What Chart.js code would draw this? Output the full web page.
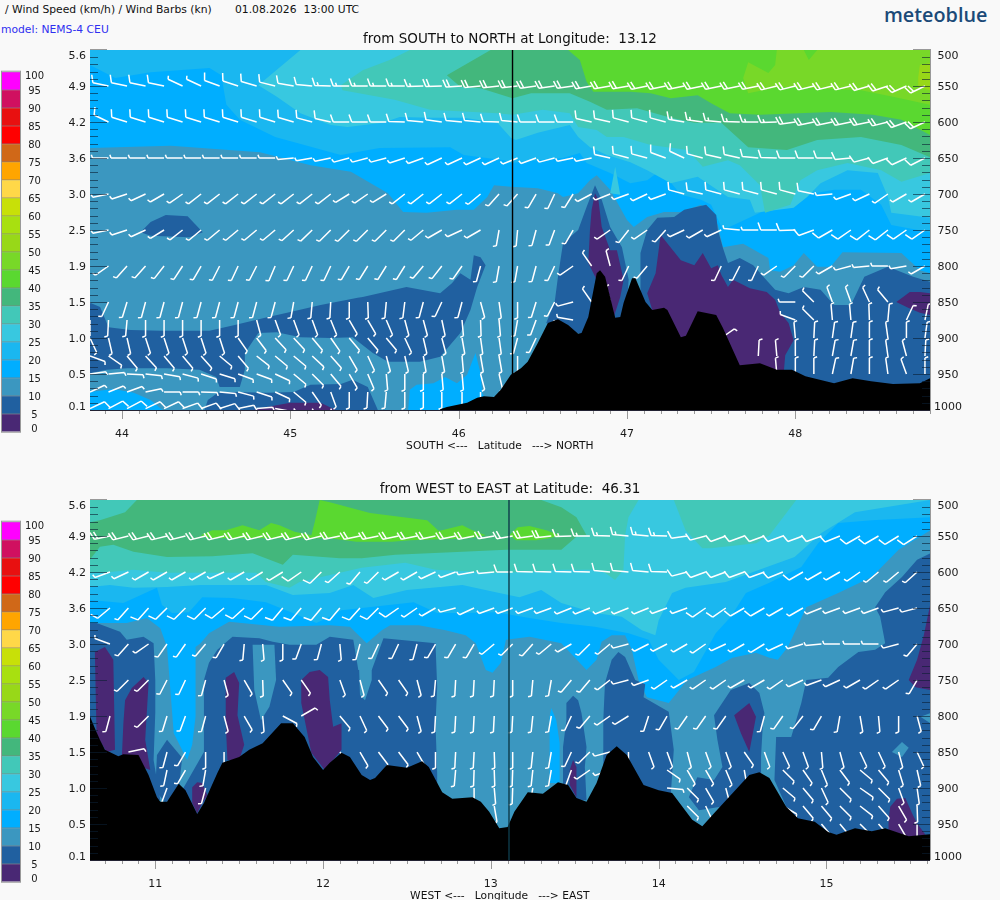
<!DOCTYPE html>
<html>
<head>
<meta charset="utf-8">
<title>Wind cross sections</title>
<script src="https://cdn.jsdelivr.net/npm/chart.js@4"></script>
<style>
  html, body { margin: 0; background: #f9f9f9; overflow: hidden; width: 1000px; height: 900px; }
  body { position: relative; font-family: "DejaVu Sans", sans-serif; color: #111; }
  canvas { position: absolute; left: 0; }
  .t { position: absolute; white-space: pre; font-size: 10.75px; line-height: 14px; }
  #logo { left: 884px; top: 1px; font: 600 19.8px/28px "Open Sans", sans-serif; color: #1b4a78; }
</style>
</head>
<body>
<div class="t" style="left:5px;top:3px">/ Wind Speed (km/h) / Wind Barbs (kn)</div>
<div class="t" style="left:235px;top:3px">01.08.2026  13:00 UTC</div>
<div class="t" style="left:1px;top:23px;color:#2f2ff0">model: NEMS-4 CEU</div>
<div class="t" id="logo">meteoblue</div>
<canvas id="scaleTop" width="50" height="450" style="top:0"></canvas>
<canvas id="scaleBottom" width="50" height="450" style="top:450px"></canvas>
<canvas id="panelTop" width="1000" height="453" style="top:0"></canvas>
<canvas id="panelBottom" width="1000" height="453" style="top:450px"></canvas>
<script>
const __ = null;

// colour scale, km/h
const speedSteps = [0, 5, 10, 15, 20, 25, 30, 35, 40, 45, 50, 55, 60, 65, 70, 75, 80, 85, 90, 95];
const speedColors = ['#492874', '#2060a0', '#3b97c0', '#00aeff', '#1ab7f0', '#38c8e0', '#42c8b8', '#43b77c', '#5ad830', '#78d828',
  '#98d818', '#a8e010', '#c8e008', '#ffd848', '#ffa500', '#d06818', '#ff0000', '#e81010', '#d01060', '#ff00ff'];
const speedTickValues = [0.5, 4.6, 9.6, 14.6, 19.6, 24.6, 29.6, 34.6, 39.6, 44.6, 49.6, 54.6, 59.6, 64.6, 69.6, 74.6, 79.6, 84.6, 89.6, 94.6, 98.7];
const speedTickLabels = ['0', '5', '10', '15', '20', '25', '30', '35', '40', '45', '50', '55', '60', '65', '70', '75', '80', '85', '90', '95', '100'];

// vertical axes, the first and last label sit a little inside the plot
const levelTickValues = [508, 552, 602, 652, 702, 752, 802, 852, 902, 952, 996];
const heightLabels = ['5.6', '4.9', '4.2', '3.6', '3.0', '2.5', '1.9', '1.5', '1.0', '0.5', '0.1'];
const pressureLabels = ['500', '550', '600', '650', '700', '750', '800', '850', '900', '950', '1000'];

// ---- SOUTH to NORTH: contours as lat,hPa pairs
const nsBand15 = [43.81,636,44.29,633,44.82,642,45.12,660,45.36,669,45.58,699,45.67,725,45.81,726,45.99,722,46.09,722,46.17,704,46.21,688,46.31,690,46.47,692,46.59,699,46.62,704,46.71,699,46.78,681,46.82,674,46.90,694,47.00,736,47.04,746,47.12,732,47.22,725,47.32,725,47.44,715,47.54,743,47.57,774,47.69,769,47.78,781,47.84,789,47.85,806,47.91,808,47.99,799,48.05,782,48.13,801,48.21,801,48.28,781,48.63,782,48.74,806,48.80,810,48.80,500,43.81,500];
const nsBand20 = [43.81,521,43.96,539,44.17,531,44.52,525,44.59,535,44.62,576,44.70,597,44.91,621,45.30,646,45.53,636,45.95,635,46.03,646,46.27,653,46.31,657,46.47,653,46.62,650,46.72,643,46.76,657,46.90,671,47.02,685,47.12,681,47.20,667,47.32,701,47.44,708,47.50,715,47.57,750,47.79,726,47.99,704,48.23,694,48.39,694,48.51,715,48.57,743,48.80,753,48.80,500,43.81,500];
const nsHump15 = [44.98,500,45.03,511,45.12,514,45.22,500];
const nsBand25 = [45.06,500,44.81,549,44.92,565,45.06,588,45.24,604,45.34,607,45.55,601,45.65,593,45.83,594,46.03,594,46.23,601,46.31,622,46.34,625,46.47,615,46.66,604,46.71,621,46.78,635,46.88,646,47.02,656,47.12,667,47.26,685,47.42,676,47.60,704,47.73,708,47.76,726,47.99,719,48.07,704,48.15,685,48.31,667,48.49,671,48.55,704,48.57,726,48.80,733,48.80,500];
const nsBand30 = [45.71,500,45.59,514,45.43,528,45.30,549,45.31,556,45.62,569,45.83,583,46.23,588,46.32,590,46.50,583,46.66,588,46.71,607,46.82,611,46.88,621,46.98,621,47.14,632,47.36,639,47.45,662,47.60,653,47.67,660,47.79,688,47.82,726,47.97,715,48.03,681,48.13,667,48.31,657,48.51,667,48.63,683,48.80,671,48.80,500];
const nsSpike30 = [46.93,662,46.90,699,46.96,701];
const nsBand35 = [46.19,500,45.93,535,46.01,551,46.13,553,46.32,567,46.43,560,46.66,560,46.78,572,46.88,583,47.06,581,47.26,594,47.40,601,47.56,601,47.72,635,47.95,639,48.13,625,48.39,621,48.63,632,48.80,649,48.80,500];
const nsBand40 = [46.65,500,46.72,514,46.76,544,46.80,558,47.02,558,47.14,560,47.26,567,47.42,563,47.50,574,47.61,588,47.79,590,48.21,586,48.46,590,48.63,597,48.80,618,48.80,500];
const nsBand45 = [47.89,500,47.88,521,47.84,532,47.72,517,47.69,539,47.72,560,47.91,551,48.39,556,48.58,565,48.80,576,48.80,500];
const nsNotch40 = [48.05,500,48.08,514,48.13,500];
const nsBand50 = [48.74,521,48.73,538,48.73,551,48.80,556,48.80,518];
const nsIsle5a = [44.11,753,44.17,739,44.26,729,44.39,731,44.48,753,44.40,760,44.17,758];
const nsIsle5b = [43.81,851,43.87,857,43.92,885,44.05,889,44.23,890,44.52,890,44.67,882,44.85,872,45.00,864,45.18,854,45.40,844,45.43,843,45.69,829,45.89,838,45.96,824,46.01,810,46.07,819,46.09,785,46.13,788,46.16,799,46.11,829,46.07,861,46.01,893,45.89,926,45.77,933,45.58,933,45.49,921,45.37,899,45.24,900,45.06,899,44.92,892,44.81,893,44.73,921,44.73,944,44.70,968,44.58,968,44.56,954,44.46,944,44.27,942,44.03,942,43.91,944,43.81,949];
const nsIsle5c = [44.49,1000,44.51,986,44.57,976,44.66,975,44.86,976,45.02,975,45.12,965,45.30,964,45.37,958,45.46,968,45.52,1000];
const nsSpire5 = [46.81,688,46.76,718,46.71,750,46.62,768,46.59,815,46.57,851,46.52,879,46.84,903,46.99,875,47.01,819,46.97,774,46.90,746,46.85,708];
const nsRight5 = [47.08,782,47.12,750,47.18,733,47.28,732,47.34,722,47.47,715,47.53,729,47.54,750,47.57,775,47.60,796,47.67,789,47.75,799,47.81,815,47.88,833,47.96,838,48.05,829,48.15,833,48.23,854,48.33,854,48.41,815,48.55,801,48.70,815,48.80,822,48.80,1000,47.08,1000];
const nsSpire0 = [46.81,699,46.79,722,46.78,750,46.77,796,46.82,819,46.92,872,46.96,843,46.98,819,46.94,778,46.90,778,46.85,746,46.83,708];
const nsRidge0 = [47.20,757,47.32,792,47.40,799,47.45,782,47.50,803,47.54,799,47.56,812,47.60,829,47.63,819,47.73,831,47.83,836,47.88,847,47.91,865,47.96,879,47.99,903,47.94,924,47.93,951,47.20,951,47.15,861,47.12,838,47.17,810];
const nsEdge0 = [48.60,850,48.68,836,48.74,836,48.80,838,48.80,868,48.74,865,48.67,858];
const nsFloor0 = [44.78,1000,44.86,996,45.00,990,45.18,990,45.27,1000];
const nsFloor15a = [43.81,975,43.95,971,44.07,976,44.17,986,44.24,1000,43.81,1000];
const nsFloor15b = [45.70,1000,45.71,972,45.75,965,45.85,963,45.92,954,45.99,963,46.05,951,46.10,921,46.13,949,46.14,976,46.19,1000];
const nsTerrainLat = [45.89,45.93,46.05,46.11,46.15,46.21,46.25,46.31,46.37,46.41,46.47,46.53,46.59,46.65,46.71,46.73,46.77,46.82,46.84,46.87,46.93,46.96,46.98,47.03,47.05,47.11,47.15,47.22,47.24,47.32,47.35,47.42,47.53,47.57,47.67,47.79,47.89,47.98,48.06,48.23,48.34,48.45,48.58,48.74,48.80];
const nsTerrainP = [999,996,990,983,981,982,972,951,942,933,907,879,874,882,894,893,871,810,806,815,872,871,851,817,817,850,861,858,861,899,897,863,868,886,938,935,944,944,953,963,956,960,964,963,956];

// ---- SOUTH to NORTH: wind barbs, direction the wind comes from and speed in kn
const nsBarbLat = [43.81,43.92,44.03,44.14,44.25,44.36,44.47,44.58,44.69,44.80,44.91,45.02,45.13,45.24,45.35,45.46,45.57,45.68,45.79,45.90,46.02,46.13,46.24,46.35,46.46,46.57,46.68,46.79,46.90,47.01,47.12,47.23,47.34,47.45,47.56,47.67,47.78,47.89,48.00,48.11,48.22,48.33,48.44,48.55,48.66,48.77];
const nsDir550 = [282,282,282,282,282,295,295,290,288,286,284,280,275,272,270,270,270,270,268,268,266,265,264,264,262,262,262,260,260,260,258,258,258,258,258,258,258,256,256,256,256,256,254,252,246,244];
const nsKn550 = [10,10,10,10,10,5,5,10,10,10,10,10,10,15,15,15,15,15,15,20,20,20,20,20,20,20,20,20,20,20,20,20,20,20,20,20,20,20,20,20,20,20,20,20,20,20];
const nsDir600 = [300,296,287,287,287,287,287,287,287,287,287,286,285,283,270,270,270,272,275,278,275,275,272,275,270,270,270,283,283,285,285,285,280,278,275,272,270,268,262,258,258,258,258,256,250,245];
const nsKn600 = [5,10,10,10,10,10,10,10,10,10,10,10,10,10,10,10,10,10,10,10,10,10,10,10,10,10,10,10,10,10,10,10,15,15,15,15,15,15,20,20,20,20,20,20,20,20];
const nsDir650 = [270,270,270,270,270,270,270,270,270,270,270,265,260,258,255,255,255,252,250,245,245,245,245,248,250,255,258,258,283,285,285,290,295,285,283,283,275,272,270,270,270,265,255,250,245,243];
const nsKn650 = [5,5,5,5,5,5,5,5,5,5,5,5,5,5,5,5,5,5,5,5,5,5,5,5,5,5,5,5,10,10,10,10,10,10,10,10,10,10,10,10,10,10,10,10,10,10];
const nsDir700 = [__,258,252,245,240,235,232,232,232,232,232,232,232,232,238,235,238,232,232,232,232,230,222,222,210,205,212,242,248,250,245,250,285,283,285,285,285,285,285,282,265,250,245,235,240,240];
const nsKn700 = [5,5,5,5,5,5,5,5,5,5,5,5,5,5,5,5,5,5,5,5,5,5,5,5,5,5,5,5,5,5,5,5,10,10,10,10,10,10,10,10,5,5,5,5,5,5];
const nsDir750 = [262,258,252,245,238,232,230,230,230,230,230,228,226,225,225,225,225,225,230,240,245,240,190,185,195,200,210,__,235,218,235,222,245,240,245,275,270,270,268,250,240,235,232,232,235,235];
const nsKn750 = [5,5,5,5,5,5,5,5,5,5,5,5,5,5,5,5,5,5,5,5,5,5,5,5,5,5,5,5,5,5,5,5,5,5,5,5,5,10,10,10,10,10,10,10,10,10];
const nsDir800 = [240,235,222,222,218,213,210,207,205,207,203,205,205,205,210,212,212,212,220,218,215,195,190,190,195,205,235,325,345,205,220,__,__,__,205,207,205,235,225,225,240,255,265,270,260,240];
const nsDir850 = [210,205,197,195,195,195,195,195,195,195,195,190,185,183,180,178,185,187,195,205,195,165,172,180,197,207,255,325,345,__,__,__,__,__,__,__,__,__,270,315,340,340,335,320,__,__];
const nsDir875 = [180,183,185,180,180,180,180,180,180,165,160,160,160,158,150,150,157,165,165,168,175,178,175,190,200,210,280,__,__,__,__,__,__,__,__,__,__,__,290,315,355,355,358,5,25,12];
const nsDir900 = [155,167,167,162,162,162,162,162,145,143,137,137,140,145,140,140,140,155,167,165,170,172,172,195,205,__,__,__,__,__,__,__,__,__,55,__,__,__,355,3,8,8,0,352,0,8];
const nsDir925 = [110,125,140,137,140,140,138,130,140,128,130,130,133,138,150,155,165,167,170,170,175,170,170,180,215,__,__,__,__,__,__,__,__,__,__,__,3,355,0,3,10,10,0,352,345,3];
const nsDir950 = [82,85,93,96,100,105,108,107,110,110,115,130,135,140,150,157,175,180,180,175,175,165,167,175,__,__,__,__,__,__,__,__,__,__,__,__,__,355,0,0,12,10,0,352,340,0];
const nsDir975 = [65,68,70,78,90,90,92,95,105,108,115,130,145,160,180,183,185,180,180,180,180,180,__,__,__,__,__,__,__,__,__,__,__,__,__,__,__,__,__,__,__,__,__,__,__,__];
const nsDir998 = [65,62,62,65,65,70,70,72,78,85,100,140,150,155];

// ---- WEST to EAST: contours as lon,hPa pairs
const ewBand15 = [10.61,674,10.67,671,10.83,671,10.95,664,11.03,678,11.07,704,11.09,764,11.11,824,11.14,838,11.19,861,11.22,840,11.24,801,11.24,750,11.24,704,11.27,699,11.32,685,11.44,669,11.74,676,12.04,674,12.16,676,12.26,699,12.35,681,12.40,674,12.57,674,12.73,681,12.85,688,12.91,699,12.97,736,13.01,740,13.06,726,13.09,694,13.23,690,13.42,699,13.57,736,13.63,722,13.66,697,13.72,688,13.80,688,13.84,708,13.88,750,13.93,774,14.06,782,14.17,750,14.20,747,14.34,732,14.44,719,14.58,712,14.66,719,14.71,722,14.77,704,14.88,649,15.07,629,15.27,607,15.43,569,15.62,542,15.62,500,10.61,500];
const ewBand20 = [10.61,639,10.81,643,10.95,628,11.01,622,11.04,646,11.10,657,11.20,656,11.28,635,11.46,636,11.66,642,11.82,657,11.96,671,12.04,662,12.11,653,12.54,642,12.68,657,12.87,657,13.03,656,13.23,664,13.42,671,13.62,676,13.82,685,13.94,694,14.00,722,14.12,750,14.21,739,14.34,685,14.43,662,14.52,629,14.66,615,14.85,593,14.95,560,15.07,532,15.27,528,15.62,524,15.62,500,10.61,500];
const ewBand25 = [10.61,621,10.73,618,10.87,622,11.07,621,11.27,618,11.66,618,11.82,632,12.04,629,12.18,618,12.30,636,12.50,625,12.83,618,13.05,629,13.17,635,13.30,625,13.42,643,13.62,657,13.78,662,13.90,681,13.98,688,14.00,667,14.08,629,14.16,622,14.40,614,14.60,597,14.81,579,14.97,546,15.17,517,15.62,500,10.61,500];
const ewBand30 = [10.61,601,10.73,600,10.87,597,11.07,601,11.34,601,11.60,601,11.66,614,11.80,622,11.86,614,12.10,601,12.23,594,12.49,587,12.67,597,13.03,601,13.23,600,13.42,597,13.62,597,13.68,601,13.74,611,13.79,597,13.80,549,13.82,524,13.88,500,10.61,500];
const ewPatch30 = [14.09,500,14.16,542,14.26,567,14.31,567,14.58,560,14.66,549,14.82,500];
const ewBand35 = [10.61,583,10.67,565,10.75,562,10.87,572,11.07,579,11.34,578,11.58,574,11.76,590,11.82,576,12.10,581,12.23,581,12.43,576,12.83,572,13.09,569,13.42,569,13.52,549,13.57,549,13.51,524,13.42,510,13.30,500,10.61,500];
const ewCorner30 = [10.61,500,10.89,500,10.82,517,10.67,528,10.61,531];
const ewPatch40a = [11.98,500,12.04,503,12.28,518,12.62,528,12.69,543,12.83,535,12.89,542,12.97,549,12.87,553,12.52,556,12.41,558,12.20,558,12.04,553,11.86,553,11.34,553,11.27,549,11.34,542,11.42,542,11.52,535,11.62,542,11.69,532,11.74,535,11.83,544,11.93,549,11.95,531];
const ewPatch40b = [13.11,549,13.16,538,13.23,536,13.33,542,13.41,549,13.35,553,13.27,556,13.15,556];
const ewIsle5a = [10.61,671,10.65,671,10.79,683,10.83,694,10.93,690,10.99,699,11.00,750,11.00,796,10.99,861,11.03,917,10.61,917];
const ewIsle5b = [11.01,854,11.07,833,11.16,858,11.14,903,11.06,921,11.00,903];
const ewIsle5c = [11.32,726,11.37,708,11.46,690,11.62,692,11.70,697,11.80,701,11.96,701,12.04,690,12.18,694,12.21,736,12.29,736,12.36,692,12.67,699,12.68,760,12.67,810,12.68,879,12.68,944,11.20,944,11.16,903,11.29,850,11.29,750];
const ewGap10a = [11.58,701,11.71,701,11.72,750,11.68,787,11.63,806,11.59,764];
const ewGap10b = [12.21,701,12.29,701,12.29,750,12.25,778,12.22,771];
const ewIsle5d = [13.45,782,13.49,772,13.52,778,13.54,796,13.57,843,13.56,871,13.57,917,13.43,917,13.43,843,13.45,806];
const ewStrip15 = [13.36,789,13.35,801,13.35,893,13.41,893,13.41,838,13.39,806];
const ewIsle5e = [13.68,754,13.72,722,13.76,711,13.80,718,13.86,750,13.92,756,13.91,774,14.06,794,14.09,847,14.07,917,13.67,917,13.67,806];
const ewIsle5f = [14.33,799,14.43,764,14.54,754,14.60,768,14.63,796,14.62,815,14.61,857,14.61,917,14.24,931,14.18,913,14.23,885,14.33,889,14.38,871,14.35,833];
const ewIsle5g = [15.62,574,15.54,583,15.45,607,15.35,628,15.29,649,15.32,662,15.35,699,15.29,708,15.19,711,15.07,732,15.01,747,14.88,750,14.85,782,14.79,829,14.70,829,14.69,889,14.77,931,14.77,1000,15.62,1000];
const ewSpot10a = [15.39,850,15.45,836,15.49,844,15.45,857];
const ewSpot10b = [15.56,801,15.62,796,15.62,810];
const ewCalmA = [10.64,711,10.70,704,10.75,722,10.76,847,10.71,850,10.65,826];
const ewCalmB = [10.86,761,10.93,746,10.96,754,10.94,833,10.97,875,10.80,861,10.81,810,10.82,778];
const ewCalmC = [11.22,899,11.25,892,11.28,893,11.31,910,11.28,921,11.25,935,11.22,921];
const ewCalmD = [11.42,747,11.47,739,11.50,754,11.49,799,11.53,840,11.50,861,11.43,861,11.42,810];
const ewCalmE = [11.87,750,11.92,739,11.98,736,12.03,746,12.04,778,12.06,815,12.11,810,12.11,847,12.01,875,11.93,851,11.87,782];
const ewCalmF = [13.47,875,13.49,861,13.51,871,13.51,913,13.47,896];
const ewCalmG = [14.45,799,14.54,782,14.58,801,14.54,850,14.49,824];
const ewCalmH = [15.62,643,15.58,688,15.54,722,15.49,750,15.53,760,15.62,764];
const ewCalmI = [15.37,944,15.38,926,15.42,915,15.47,914,15.51,935,15.54,949,15.59,965,15.37,972];
const ewTerrainLon = [10.61,10.64,10.67,10.70,10.78,10.81,10.90,10.96,11.01,11.03,11.07,11.14,11.18,11.25,11.29,11.37,11.40,11.50,11.56,11.64,11.75,11.82,11.89,11.94,12.00,12.04,12.11,12.16,12.23,12.28,12.31,12.38,12.50,12.59,12.63,12.71,12.77,12.89,12.94,12.99,13.05,13.10,13.14,13.22,13.31,13.40,13.46,13.51,13.57,13.63,13.69,13.75,13.81,13.91,14.00,14.08,14.20,14.26,14.33,14.54,14.60,14.66,14.76,14.83,14.93,15.01,15.06,15.17,15.27,15.35,15.49,15.62];
const ewTerrainP = [800,817,833,847,856,853,854,882,913,919,919,894,903,936,921,879,865,857,847,838,810,810,829,857,875,865,851,857,882,889,886,868,872,863,871,906,915,913,919,933,956,954,933,906,908,892,896,914,919,893,854,842,854,896,903,907,944,953,935,882,878,886,926,942,947,961,965,956,960,956,967,964];

// ---- WEST to EAST: wind barbs
const ewBarbLon = [10.61,10.73,10.84,10.96,11.07,11.18,11.30,11.41,11.53,11.64,11.76,11.87,11.99,12.10,12.22,12.33,12.45,12.56,12.67,12.79,12.90,13.02,13.13,13.25,13.36,13.48,13.59,13.71,13.82,13.94,14.05,14.17,14.28,14.40,14.51,14.63,14.74,14.86,14.97,15.08,15.20,15.31,15.43,15.54];
const ewDir550 = [258,258,256,256,256,256,256,256,256,256,256,256,256,258,258,258,258,258,258,258,258,260,260,262,264,268,270,272,275,275,272,262,255,250,250,250,250,250,250,248,240,240,238,237];
const ewKn550 = [20,20,20,20,20,20,20,20,20,20,20,20,20,20,20,20,20,20,20,20,20,20,20,20,20,15,15,15,15,15,15,10,10,10,10,10,10,10,10,10,10,10,10,10];
const ewDir600 = [__,250,245,240,240,240,240,245,240,238,238,235,225,228,220,225,240,240,245,250,260,265,270,272,272,272,272,275,275,275,272,255,250,250,250,250,248,240,240,240,235,230,230,228];
const ewKn600 = [5,5,5,5,5,5,5,5,5,5,5,10,10,5,5,5,5,5,5,5,5,5,10,10,10,10,10,10,10,10,10,10,10,10,10,10,10,10,5,5,5,5,5,5];
const ewDir650 = [__,230,222,222,225,225,225,230,228,225,220,220,220,220,222,225,235,235,240,255,245,250,250,250,250,248,248,248,248,248,250,250,235,235,240,240,240,240,248,250,250,250,255,255];
const ewKn650 = [5,10,5,10,10,10,10,10,10,10,10,10,10,10,10,10,10,5,5,5,5,5,5,5,5,5,5,5,5,5,5,5,10,10,10,10,5,5,5,5,5,5,5,5];
const ewDir700 = [__,290,222,235,215,215,220,210,185,175,180,200,195,175,195,205,205,195,210,210,210,230,225,222,230,240,225,230,255,243,243,240,235,245,240,238,245,253,265,270,270,270,255,220];
const ewDir750 = [__,__,225,225,207,205,195,165,150,178,145,145,__,160,165,145,145,165,185,183,183,183,180,185,190,220,220,232,255,250,235,240,235,235,240,240,235,245,250,245,240,235,235,210];
const ewDir800 = [__,195,__,225,197,200,195,165,150,175,118,60,__,140,155,143,143,165,183,183,183,183,183,186,190,205,220,235,238,198,210,215,215,215,__,195,215,218,210,190,170,175,180,165];
const ewDir850 = [__,__,78,__,195,210,180,180,__,__,__,__,__,140,150,143,143,150,180,183,183,178,180,186,190,205,225,255,180,160,160,165,160,160,145,160,155,160,175,165,155,155,165,155];
const ewDir875 = [__,__,__,__,192,210,190,__,__,__,__,__,__,__,__,__,__,__,__,185,182,178,182,186,190,200,235,250,__,__,125,150,150,157,170,__,135,145,158,143,130,140,163,167];
const ewDir900 = [__,__,__,__,200,__,195,__,__,__,__,__,__,__,__,__,__,__,__,__,180,175,182,190,__,__,__,__,__,__,95,135,150,165,__,__,130,140,155,135,125,135,160,172];
const ewDir925 = [__,__,__,__,__,__,__,__,__,__,__,__,__,__,__,__,__,__,__,__,__,170,__,__,__,__,__,__,__,__,__,135,155,__,__,__,120,140,140,135,128,138,150,178];
const ewDir950 = [__,__,__,__,__,__,__,__,__,__,__,__,__,__,__,__,__,__,__,__,__,__,__,__,__,__,__,__,__,__,__,__,__,__,__,__,__,__,140,140,135,138,150,180];

// band colours by lower km/h limit
const band = Object.fromEntries(speedSteps.map((s, i) => [s, speedColors[i]]));

const panels = [
  {
    canvas: 'panelTop', min: 43.81, max: 48.80, majors: [44, 45, 46, 47, 48], section: 46.32, sectionColor: '#000',
    title: 'from SOUTH to NORTH at Longitude:  13.12',
    axisTitle: 'SOUTH <---   Latitude   ---> NORTH      ',
    layers: [[nsBand15, 15], [nsHump15, 15], [nsBand20, 20], [nsBand25, 25], [nsBand30, 30], [nsSpike30, 25], [nsBand35, 35], [nsBand40, 40], [nsBand45, 45], [nsNotch40, 40], [nsBand50, 50],
      [nsFloor15a, 15], [nsFloor15b, 15], [nsIsle5a, 5], [nsIsle5b, 5], [nsIsle5c, 5], [nsSpire5, 5], [nsRight5, 5], [nsSpire0, 0], [nsRidge0, 0], [nsEdge0, 0], [nsFloor0, 0]],
    barbX: nsBarbLat,
    rows: [[550, nsDir550, nsKn550], [600, nsDir600, nsKn600], [650, nsDir650, nsKn650], [700, nsDir700, nsKn700], [750, nsDir750, nsKn750],
      [800, nsDir800, 5], [850, nsDir850, 5], [875, nsDir875, 5], [900, nsDir900, 5], [925, nsDir925, 5], [950, nsDir950, 5], [975, nsDir975, 5], [998, nsDir998, 10]],
    terrainX: nsTerrainLat, terrainP: nsTerrainP
  },
  {
    canvas: 'panelBottom', min: 10.611, max: 15.617, majors: [11, 12, 13, 14, 15], section: 13.108, sectionColor: '#0d3b4a',
    title: 'from WEST to EAST at Latitude:  46.31',
    axisTitle: 'WEST <---   Longitude   ---> EAST      ',
    layers: [[ewBand15, 15], [ewBand20, 20], [ewBand25, 25], [ewBand30, 30], [ewPatch30, 30], [ewBand35, 35], [ewCorner30, 30], [ewPatch40a, 40], [ewPatch40b, 40],
      [ewIsle5a, 5], [ewIsle5b, 5], [ewIsle5c, 5], [ewGap10a, 10], [ewGap10b, 10], [ewIsle5d, 5], [ewStrip15, 15], [ewIsle5e, 5], [ewIsle5f, 5], [ewIsle5g, 5], [ewSpot10a, 10], [ewSpot10b, 10],
      [ewCalmA, 0], [ewCalmB, 0], [ewCalmC, 0], [ewCalmD, 0], [ewCalmE, 0], [ewCalmF, 0], [ewCalmG, 0], [ewCalmH, 0], [ewCalmI, 0]],
    barbX: ewBarbLon,
    rows: [[550, ewDir550, ewKn550], [600, ewDir600, ewKn600], [650, ewDir650, ewKn650], [700, ewDir700, 5], [750, ewDir750, 5],
      [800, ewDir800, 5], [850, ewDir850, 5], [875, ewDir875, 5], [900, ewDir900, 5], [925, ewDir925, 5], [950, ewDir950, 5]],
    terrainX: ewTerrainLon, terrainP: ewTerrainP
  }
];

Chart.defaults.font.family = '"DejaVu Sans", sans-serif';
Chart.defaults.color = '#1a1a1a';

const toPoints = flat => {
  const pts = [];
  for (let i = 0; i < flat.length; i += 2) pts.push({ x: flat[i], y: flat[i + 1] });
  return pts;
};

// draws the feathered barbs right after their (invisible) points
const barbPlugin = {
  id: 'barbs',
  afterDatasetDraw(chart, args) {
    if (!chart.data.datasets[args.index].barbs) return;
    const { ctx, chartArea: a } = chart;
    ctx.save();
    ctx.beginPath();
    ctx.rect(a.left, a.top, a.right - a.left, a.bottom - a.top);
    ctx.clip();
    ctx.strokeStyle = '#fff';
    ctx.lineWidth = 1.5;
    args.meta.data.forEach((pt, i) => {
      const { dir, kn } = chart.data.datasets[args.index].data[i];
      const r = dir * Math.PI / 180, f = (dir + 70) * Math.PI / 180;
      const ux = Math.sin(r), uy = -Math.cos(r), fx = Math.sin(f), fy = -Math.cos(f);
      ctx.beginPath();
      ctx.moveTo(pt.x, pt.y);
      ctx.lineTo(pt.x + ux * 16, pt.y + uy * 16);
      let at = 16, left = kn;
      while (left >= 5) {
        const len = left >= 10 ? 8 : 3.5;
        ctx.moveTo(pt.x + ux * at, pt.y + uy * at);
        ctx.lineTo(pt.x + ux * at + fx * len, pt.y + uy * at + fy * len);
        left -= left >= 10 ? 10 : 5;
        at -= 3.5;
      }
      ctx.stroke();
    });
    ctx.restore();
  }
};

// tick marks run into the plot on both sides, below it on the x axis
const frameTicksPlugin = {
  id: 'frameTicks',
  afterDraw(chart) {
    const { ctx, chartArea: a, scales } = chart;
    ctx.save();
    ctx.lineWidth = 1;
    ctx.strokeStyle = 'rgba(10,30,50,0.6)';
    ctx.beginPath();
    for (let p = 510; p < 1000; p += 10) {
      const y = Math.round(scales.y.getPixelForValue(p)) + 0.5, len = p % 50 === 0 ? 17 : 8;
      ctx.moveTo(a.left, y); ctx.lineTo(a.left + len, y);
      ctx.moveTo(a.right, y); ctx.lineTo(a.right - len, y);
    }
    ctx.stroke();
    ctx.strokeStyle = '#999';
    ctx.beginPath();
    ctx.moveTo(a.left, a.top - 0.5); ctx.lineTo(a.left + 17, a.top - 0.5);
    ctx.moveTo(a.right, a.top - 0.5); ctx.lineTo(a.right - 17, a.top - 0.5);
    ctx.moveTo(a.right + 0.5, a.top - 1); ctx.lineTo(a.right + 0.5, a.bottom);
    for (let t = Math.ceil(scales.x.min * 10); t <= scales.x.max * 10; t++) {
      const x = Math.round(scales.x.getPixelForValue(t / 10)) + 0.5;
      ctx.moveTo(x, a.bottom); ctx.lineTo(x, a.bottom + (t % 10 === 0 ? 9 : 4));
    }
    ctx.stroke();
    ctx.strokeStyle = '#223';
    ctx.beginPath();
    ctx.moveTo(a.left, a.bottom + 0.5); ctx.lineTo(a.right, a.bottom + 0.5);
    ctx.stroke();
    ctx.restore();
  }
};

function polygon(flat, color) {
  return { data: toPoints(flat), showLine: true, fill: 'shape', backgroundColor: color, borderColor: 'transparent', borderWidth: 0, pointRadius: 0 };
}

function levelAxis(position, width, labels, extra) {
  return Object.assign({
    type: 'linear', position, reverse: true, min: 500, max: 1000,
    grid: { display: false, drawTicks: false }, border: { display: false },
    afterBuildTicks: s => { s.ticks = levelTickValues.map(value => ({ value })); },
    afterFit: s => { s.width = width; },
    ticks: { autoSkip: false, font: { size: 11 }, padding: 4, callback: (v, i) => labels[i] }
  }, extra);
}

function buildPanel(p) {
  const barbs = [];
  p.rows.forEach(([level, dirs, kn]) => dirs.forEach((dir, j) => {
    if (dir !== null) barbs.push({ x: p.barbX[j], y: level, dir, kn: Array.isArray(kn) ? kn[j] : kn });
  }));
  const terrain = p.terrainX.flatMap((x, i) => [x, p.terrainP[i]]).concat([p.terrainX[p.terrainX.length - 1], 1000, p.terrainX[0], 1000]);
  const list = [polygon([p.min, 500, p.max, 500, p.max, 1000, p.min, 1000], band[10])]
    .concat(p.layers.map(([flat, s]) => polygon(flat, band[s])));
  list.push({ barbs: true, data: barbs, showLine: false, pointRadius: 0 });
  list.push(polygon(terrain, '#000'));
  list.push({ data: [{ x: p.section, y: 500 }, { x: p.section, y: 1000 }], showLine: true, fill: false, borderColor: p.sectionColor, borderWidth: 1.4, pointRadius: 0 });
  // chart.js paints the highest order first
  list.forEach((d, i) => { d.order = list.length - i; d.yAxisID = 'y'; });

  new Chart(document.getElementById(p.canvas), {
    type: 'scatter',
    data: { datasets: list },
    plugins: [barbPlugin, frameTicksPlugin],
    options: {
      responsive: false, animation: false, events: [], devicePixelRatio: 1,
      plugins: {
        legend: { display: false }, tooltip: { enabled: false },
        title: { display: true, text: p.title, fullSize: false, color: '#111', font: { size: 13.5, weight: 'normal' }, padding: { top: 31, bottom: 2.8 } }
      },
      scales: {
        x: {
          type: 'linear', min: p.min, max: p.max,
          grid: { display: false, drawTicks: false }, border: { display: false },
          afterBuildTicks: s => { s.ticks = p.majors.map(value => ({ value })); },
          afterFit: s => { s.height = 43; },
          ticks: { autoSkip: false, maxRotation: 0, font: { size: 11 }, padding: 18, callback: v => String(v) },
          title: { display: true, text: p.axisTitle, color: '#111', font: { size: 10.7 }, padding: 0 }
        },
        y: levelAxis('left', 90, heightLabels),
        y2: levelAxis('right', 70, pressureLabels, { ticks: { autoSkip: false, font: { size: 11 }, padding: 4, crossAlign: 'center', callback: (v, i) => pressureLabels[i] } })
      }
    }
  });
}

const scaleFramePlugin = {
  id: 'scaleFrame',
  afterDraw(chart) {
    const { ctx, chartArea: a } = chart;
    ctx.save();
    ctx.strokeStyle = '#999';
    ctx.strokeRect(a.left - 0.5, a.top - 0.5, a.right - a.left + 1, a.bottom - a.top + 1);
    ctx.restore();
  }
};

function buildScale(id) {
  new Chart(document.getElementById(id), {
    type: 'bar',
    data: {
      labels: ['km/h'],
      datasets: speedSteps.map((s, i) => ({
        data: [5], backgroundColor: speedColors[i], borderColor: 'rgba(0,0,0,0.35)', borderWidth: { top: 1 }, borderSkipped: false,
        barPercentage: 1, categoryPercentage: 1
      }))
    },
    plugins: [scaleFramePlugin],
    options: {
      responsive: false, animation: false, events: [], devicePixelRatio: 1,
      layout: { padding: { top: 71.7, left: 2, bottom: 18.3 } },
      plugins: { legend: { display: false }, tooltip: { enabled: false } },
      scales: {
        x: { stacked: true, display: false },
        y: {
          stacked: true, position: 'right', min: 0, max: 100,
          grid: { display: false, drawTicks: false }, border: { display: false },
          afterBuildTicks: s => { s.ticks = speedTickValues.map(value => ({ value })); },
          afterFit: s => { s.width = 30; },
          ticks: { autoSkip: false, font: { size: 10 }, padding: 5, crossAlign: 'center', callback: (v, i) => speedTickLabels[i] }
        }
      }
    }
  });
}

buildScale('scaleTop');
buildScale('scaleBottom');
panels.forEach(buildPanel);
</script>
</body>
</html>
